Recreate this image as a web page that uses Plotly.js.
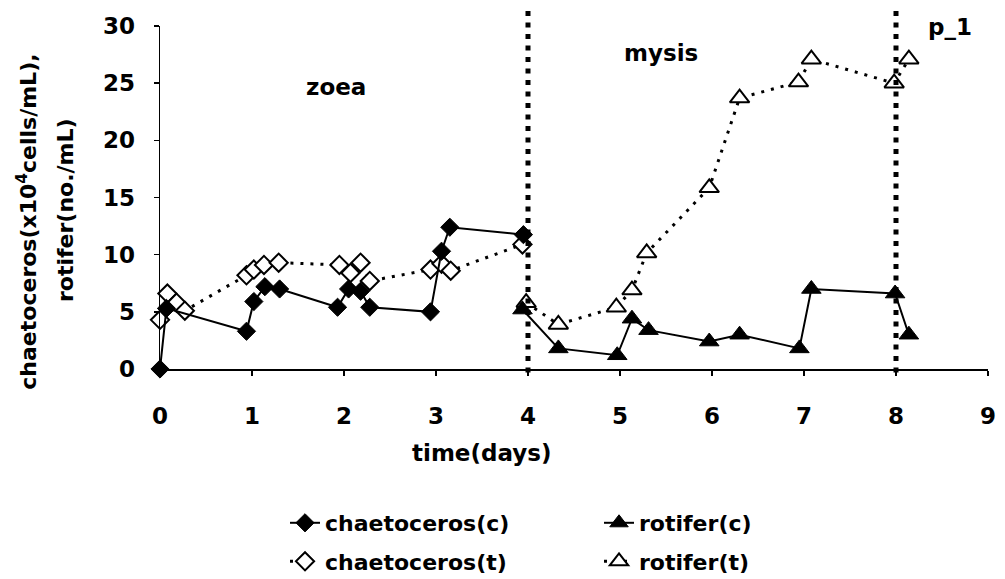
<!DOCTYPE html>
<html>
<head>
<meta charset="utf-8">
<script src="https://cdn.plot.ly/plotly-3.0.1.min.js"></script>
<style>html,body{margin:0;padding:0;background:#fff;}#chart{width:1005px;height:579px;}</style>
</head>
<body>
<div id="chart"></div>
<script>
// ---- data ----
var chaetC_x = [0, 0.07, 0.94, 1.02, 1.14, 1.30, 1.93, 2.05, 2.18, 2.28, 2.94, 3.06, 3.15, 3.95];
var chaetC_y = [0, 5.3, 3.3, 5.9, 7.2, 7.0, 5.4, 7.0, 6.8, 5.4, 5.0, 10.3, 12.4, 11.75];

var chaetT_x = [0, 0.08, 0.18, 0.27, 0.94, 1.02, 1.13, 1.29, 1.95, 2.07, 2.18, 2.28, 2.94, 3.06, 3.16, 3.94];
var chaetT_y = [4.3, 6.6, 5.8, 5.1, 8.2, 8.7, 9.1, 9.3, 9.1, 8.4, 9.3, 7.7, 8.7, 9.2, 8.6, 10.9];

var rotC_x = [3.94, 4.33, 4.97, 5.13, 5.31, 5.97, 6.30, 6.95, 7.08, 7.99, 8.14];
var rotC_y = [5.2, 1.8, 1.2, 4.4, 3.4, 2.4, 3.0, 1.8, 7.0, 6.6, 3.0];

var rotT_x = [3.98, 4.33, 4.96, 5.13, 5.29, 5.97, 6.30, 6.94, 7.08, 7.98, 8.14];
var rotT_y = [5.8, 3.9, 5.4, 6.9, 10.15, 15.85, 23.7, 25.1, 27.1, 25.0, 27.1];

var seriesNames = ['chaetoceros(c)', 'rotifer(c)', 'chaetoceros(t)', 'rotifer(t)'];
var xTicks = [0, 1, 2, 3, 4, 5, 6, 7, 8, 9];
var yTicks = [0, 5, 10, 15, 20, 25, 30];
var stageBounds = [4, 8];
var stageNames = ['zoea', 'mysis', 'p_1'];
var stageLabelX = [1.91, 5.45, 8.59];
var stageLabelY = [24.7, 27.65, 29.9];
var yTitle1 = 'chaetoceros(x10<sup>4</sup>cells/mL),';
var yTitle2 = 'rotifer(no./mL)';
var xTitle = 'time(days)';

// ---- styling ----
var FONT = 'DejaVu Sans, Arial, sans-serif';
var bold = function (s) { return {family: FONT, size: s, color: '#000', weight: 700}; };

var traces = [
  {x: chaetT_x, y: chaetT_y, name: seriesNames[2], legend: 'legend2', mode: 'lines+markers', cliponaxis: false,
   line: {color: '#000', width: 3, dash: '3px,7px'},
   marker: {symbol: 'diamond', size: 14, color: '#fff', line: {color: '#000', width: 2}}},
  {x: rotT_x, y: rotT_y, name: seriesNames[3], legend: 'legend2', mode: 'lines+markers', cliponaxis: false,
   line: {color: '#000', width: 3, dash: '3px,7px'},
   marker: {symbol: 'triangle-up', size: 17, color: '#fff', line: {color: '#000', width: 2}}},
  {x: chaetC_x, y: chaetC_y, name: seriesNames[0], legend: 'legend', mode: 'lines+markers', cliponaxis: false,
   line: {color: '#000', width: 2},
   marker: {symbol: 'diamond', size: 14, color: '#000', line: {color: '#000', width: 1}}},
  {x: rotC_x, y: rotC_y, name: seriesNames[1], legend: 'legend', mode: 'lines+markers', cliponaxis: false,
   line: {color: '#000', width: 2},
   marker: {symbol: 'triangle-up', size: 17, color: '#000', line: {color: '#000', width: 1}}}
];

var shapes = stageBounds.map(function (b) {
  return {type: 'line', xref: 'x', yref: 'paper', x0: b, x1: b, y0: -0.01, y1: 1.05,
          line: {color: '#000', width: 5, dash: '5px,6.5px'}, layer: 'above'};
});

var annotations = stageNames.map(function (n, i) {
  return {text: n, x: stageLabelX[i], y: stageLabelY[i], xref: 'x', yref: 'y',
          showarrow: false, font: bold(23), xanchor: 'center', yanchor: 'middle'};
});
annotations.push({text: yTitle1, xref: 'paper', yref: 'paper', x: -0.161, y: 0.4286,
  textangle: -90, showarrow: false, font: bold(22), xanchor: 'center', yanchor: 'middle'});
annotations.push({text: yTitle2, xref: 'paper', yref: 'paper', x: -0.1135, y: 0.4636,
  textangle: -90, showarrow: false, font: bold(22), xanchor: 'center', yanchor: 'middle'});
annotations.push({text: xTitle, xref: 'paper', yref: 'paper', x: 0.388, y: -0.245,
  showarrow: false, font: bold(23), xanchor: 'center', yanchor: 'middle'});

var legendCommon = {orientation: 'h', xref: 'container', yref: 'container', xanchor: 'left', yanchor: 'top',
  font: bold(22), entrywidth: 269, entrywidthmode: 'pixels', bgcolor: 'rgba(0,0,0,0)',
  borderwidth: 0, itemclick: false};

var layout = {
  width: 1005, height: 579,
  margin: {l: 160, r: 17, t: 26, b: 210},
  paper_bgcolor: '#fff', plot_bgcolor: '#fff',
  showlegend: true,
  xaxis: {range: [0, 9], tickvals: xTicks, ticktext: xTicks.map(String), ticks: 'outside', ticklen: 5,
          tickwidth: 1.5, tickcolor: '#000', showline: true, linecolor: '#000', linewidth: 1.5,
          showgrid: false, zeroline: false, tickfont: bold(23), ticklabelstandoff: 21, fixedrange: true},
  yaxis: {range: [0, 30], tickvals: yTicks, ticktext: yTicks.map(String), ticks: 'outside', ticklen: 5,
          tickwidth: 1.5, tickcolor: '#000', showline: true, linecolor: '#000', linewidth: 1.5,
          showgrid: false, zeroline: false, tickfont: bold(23), ticklabelstandoff: 14, fixedrange: true},
  legend: Object.assign({}, legendCommon, {x: 0.2836, y: 0.1330}),
  legend2: Object.assign({}, legendCommon, {x: 0.2836, y: 0.0665}),
  shapes: shapes,
  annotations: annotations
};

Plotly.newPlot('chart', traces, layout, {displayModeBar: false, staticPlot: true});
</script>
</body>
</html>
